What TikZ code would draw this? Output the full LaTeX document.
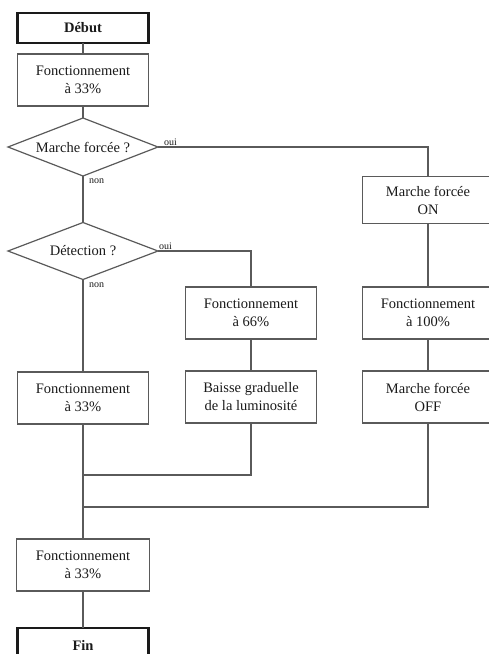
\documentclass[tikz,border=0pt]{standalone}
\usepackage{fontspec}
\setmainfont{Liberation Serif}
\usetikzlibrary{shapes.geometric}
\definecolor{flowLine}{HTML}{5A5A5A}
\definecolor{flowInk}{HTML}{1A1A1A}
\tikzset{
  flow diagram/.style={
    x=1pt, y=-1pt, line width=1.1pt, draw=flowLine,
    every node/.style={font=\fontsize{14.5}{18}\selectfont,
      text=flowInk, align=center, inner sep=0pt, outer sep=0pt}
  },
  flow box/.style={draw=flowLine, rectangle, line width=1.2pt,
    minimum width=131pt, minimum height=52pt},
  flow end/.style={draw=flowInk, rectangle, line width=2.2pt,
    minimum width=131pt, minimum height=30pt, font=\fontsize{14.5}{17}\bfseries},
  flow test/.style={draw=flowLine, diamond, aspect=2.6, line width=1.2pt,
    minimum width=150pt, minimum height=58pt},
  flow tag/.style={font=\fontsize{10}{12}\selectfont}
}

\begin{document}
\begin{tikzpicture}[flow diagram]
  \useasboundingbox (0,0) rectangle (489,654);
  \begin{scope}
    \clip (0,0) rectangle (489,654);
    % nodes
    \node[flow end] (debut) at (83,28) {Début};
    \node[flow box] (fct1) at (83,80) {Fonctionnement\\à 33\%};
    \node[flow test] (mforce) at (83,147) {Marche forcée ?};
    \node[flow test, minimum height=57pt] (detect) at (83,251) {Détection ?};
    \node[flow box, minimum height=47pt] (mfon) at (428,200) {Marche forcée\\ON};
    \node[flow box] (fct66) at (251,313) {Fonctionnement\\à 66\%};
    \node[flow box] (fct100) at (428,313) {Fonctionnement\\à 100\%};
    \node[flow box] (fct2) at (83,398) {Fonctionnement\\à 33\%};
    \node[flow box] (baisse) at (251,397) {Baisse graduelle\\de la luminosité};
    \node[flow box] (mfoff) at (428,397) {Marche forcée\\OFF};
    \node[flow box, minimum width=133pt] (fct3) at (83,565) {Fonctionnement\\à 33\%};
    \node[flow end, minimum height=34pt] (fin) at (83,645) {Fin};
    \coordinate (join1) at (83,475);
    \coordinate (join2) at (83,507);

    % connectors
    \draw (debut) -- (fct1);
    \draw (fct1) -- (mforce);
    \draw (mforce.east) -| (mfon.north)
      node[flow tag, pos=0, anchor=south west, xshift=6pt, yshift=1pt] {oui};
    \draw (mforce.south) -- (detect.north)
      node[flow tag, pos=0, anchor=north west, xshift=6pt, yshift=-3pt] {non};
    \draw (detect.east) -| (fct66.north)
      node[flow tag, pos=0, anchor=south west, xshift=1pt, yshift=1pt] {oui};
    \draw (detect.south) -- (fct2.north)
      node[flow tag, pos=0, anchor=north west, xshift=6pt, yshift=-3pt] {non};
    \draw (mfon) -- (fct100);
    \draw (fct100) -- (mfoff);
    \draw (fct66) -- (baisse);
    \draw (fct2) -- (fct3);
    \draw (baisse.south) |- (join1);
    \draw (mfoff.south) |- (join2);
    \draw (fct3) -- (fin);
  \end{scope}
\end{tikzpicture}
\end{document}
